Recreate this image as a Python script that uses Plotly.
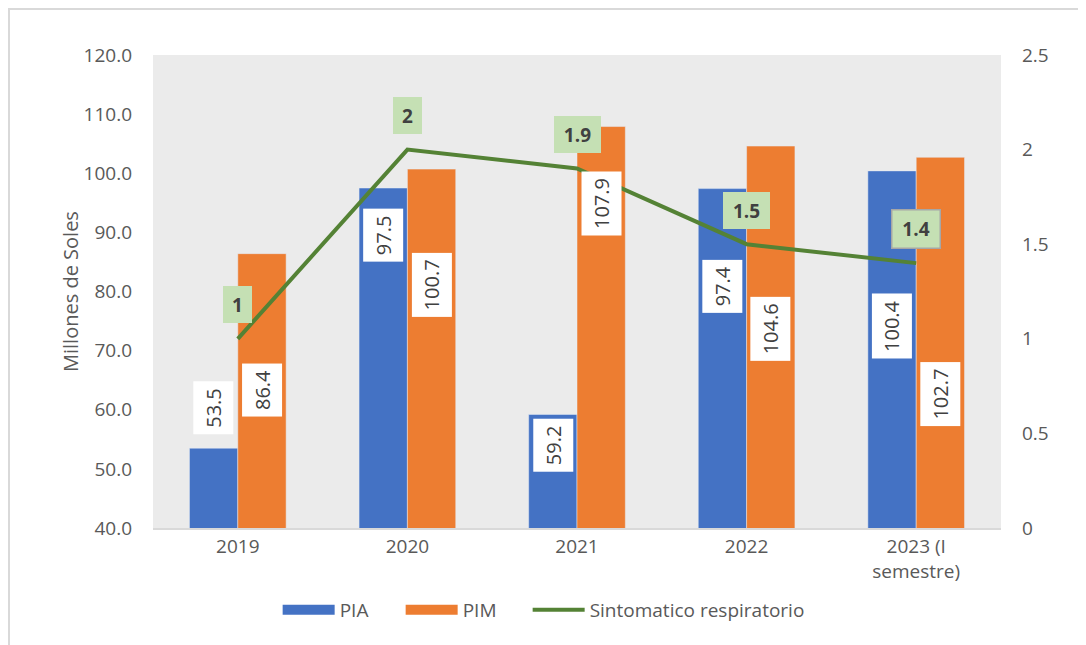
import plotly.graph_objects as go

# datos
categorias = ["2019", "2020", "2021", "2022", "2023 (I<br>semestre)"]
pia = [53.5, 97.5, 59.2, 97.4, 100.4]
pim = [86.4, 100.7, 107.9, 104.6, 102.7]
sintomatico = [1, 2, 1.9, 1.5, 1.4]
etiquetas_sr = ["1", "2", "1.9", "1.5", "1.4"]

# posicion vertical (eje izq.) de las etiquetas de barras, como en el original
y_lab_pia = [60.3, 89.6, 54.0, 80.8, 74.2]
y_lab_pim = [63.3, 81.1, 94.8, 73.7, 62.6]

AZUL = "#4472C4"
NARANJA = "#ED7D31"
VERDE = "#548235"
GRIS_TXT = "#595959"
FUENTE = "Open Sans, Noto Sans, sans-serif"

fig = go.Figure()
fig.add_trace(go.Bar(x=categorias, y=pia, name="PIA", marker=dict(color=AZUL), showlegend=False))
fig.add_trace(go.Bar(x=categorias, y=pim, name="PIM", marker=dict(color=NARANJA), showlegend=False))
# entradas de leyenda con muestra rectangular ancha (como en Excel)
fig.add_trace(go.Scatter(x=[None], y=[None], name="PIA", mode="lines",
                         line=dict(color=AZUL, width=13), legendwidth=56))
fig.add_trace(go.Scatter(x=[None], y=[None], name="PIM", mode="lines",
                         line=dict(color=NARANJA, width=13), legendwidth=60))
fig.add_trace(go.Scatter(x=categorias, y=sintomatico, name="Sintomatico respiratorio",
                         mode="lines", line=dict(color=VERDE, width=4), yaxis="y2"))

anotaciones = []
for i, cat in enumerate(categorias):
    for val, ylab, shift in ((pia[i], y_lab_pia[i], -24), (pim[i], y_lab_pim[i], 24)):
        anotaciones.append(dict(x=i, y=ylab, xref="x", yref="y", text="%.1f" % val,
                                textangle=-90, showarrow=False, xshift=shift,
                                bgcolor="white", borderpad=6,
                                font=dict(size=20, color="#404040", family=FUENTE)))
    ancho = 19 if len(etiquetas_sr[i]) == 1 else 37
    anotaciones.append(dict(x=i, y=sintomatico[i], xref="x", yref="y2",
                            text="<b>%s</b>" % etiquetas_sr[i], showarrow=False, yshift=34,
                            width=ancho, height=27,
                            bgcolor="#C5E0B4", borderpad=5,
                            bordercolor="#A6A6A6" if i == 4 else "rgba(0,0,0,0)",
                            borderwidth=1.5 if i == 4 else 0,
                            font=dict(size=19, color="#404040", family=FUENTE)))
anotaciones.append(dict(x=-0.1156, y=0.5, xref="paper", yref="paper", text="Millones de Soles",
                        textangle=-90, showarrow=False,
                        font=dict(size=20, color=GRIS_TXT, family=FUENTE)))

fig.update_layout(
    width=1086, height=645,
    margin=dict(l=145, r=93, t=47, b=125),
    paper_bgcolor="white", plot_bgcolor="#EBEBEB",
    font=dict(family=FUENTE, size=19, color=GRIS_TXT),
    barmode="group", bargap=0.43, bargroupgap=0,
    xaxis=dict(type="category", categoryorder="array", categoryarray=categorias,
               range=[-0.5, len(categorias) - 0.5],
               showgrid=False, showline=True, linecolor="#D9D9D9", linewidth=2,
               ticks="", tickfont=dict(size=19, color=GRIS_TXT)),
    yaxis=dict(range=[40, 120], dtick=10, tickformat=".1f", showgrid=False, zeroline=False,
               ticks="", ticklabelstandoff=20, tickfont=dict(size=19, color=GRIS_TXT)),
    yaxis2=dict(range=[0, 2.5], dtick=0.5, overlaying="y", side="right", showgrid=False,
                zeroline=False, ticks="", ticklabelstandoff=20,
                tickfont=dict(size=19, color=GRIS_TXT)),
    legend=dict(orientation="h", x=0.147, xanchor="left", y=-0.173, yanchor="middle",
                itemwidth=52, font=dict(size=19, color=GRIS_TXT), bgcolor="rgba(0,0,0,0)"),
    annotations=anotaciones,
    shapes=[dict(type="rect", xref="paper", yref="paper", x0=-0.1698, x1=1.11,
                 y0=-0.26, y1=1.0973, line=dict(color="#D9D9D9", width=2), layer="below")],
)

fig.write_html("out.html")
